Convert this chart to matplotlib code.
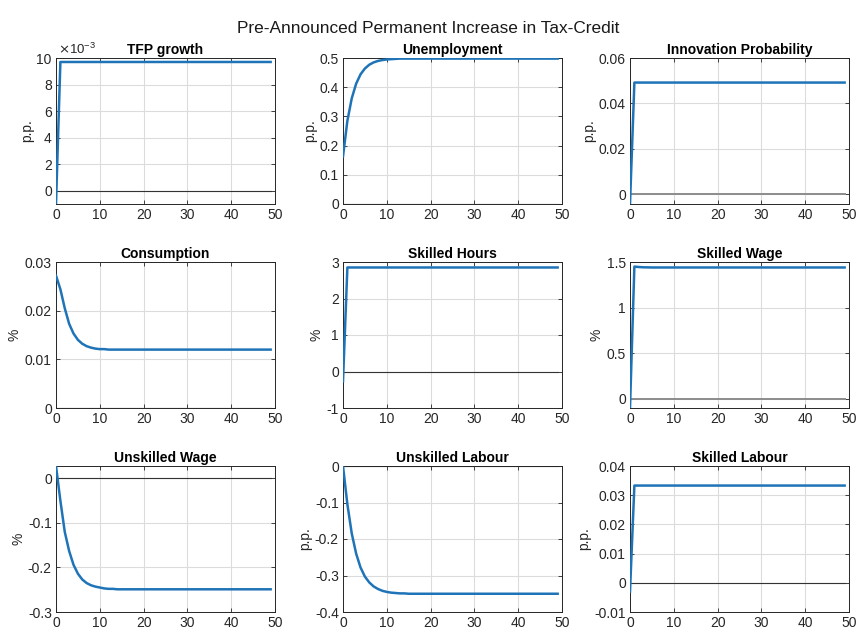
import numpy as np
import matplotlib.pyplot as plt

plt.rcParams["font.family"] = ["Liberation Sans", "DejaVu Sans"]

periods = np.arange(50)

tfp_growth = [-0.0010] + [0.0097] * 49
unemployment = [0.163, 0.285, 0.362, 0.412, 0.444, 0.464, 0.477, 0.485, 0.490, 0.493,
                0.495, 0.496, 0.497, 0.498, 0.498] + [0.498] * 35
innovation_prob = [-0.0042] + [0.0492] * 49
consumption = [0.0272, 0.0244, 0.0205, 0.0173, 0.0153, 0.0140, 0.0132, 0.0127, 0.0124, 0.0122,
               0.0121, 0.0121, 0.0120] + [0.0120] * 37
skilled_hours = [-0.27] + [2.85] * 49
skilled_wage = [-0.10, 1.45, 1.445, 1.442, 1.441] + [1.44] * 45
unskilled_wage = [0.028, -0.050, -0.120, -0.163, -0.194, -0.214, -0.227, -0.235, -0.240, -0.243,
                  -0.245, -0.247, -0.248, -0.248, -0.249] + [-0.249] * 35
unskilled_labour = [0.0, -0.105, -0.185, -0.240, -0.278, -0.303, -0.319, -0.330, -0.337, -0.342,
                    -0.345, -0.347, -0.348, -0.349, -0.349] + [-0.350] * 35
skilled_labour = [-0.003] + [0.0333] * 49

titles = ["TFP growth", "Unemployment", "Innovation Probability",
          "Consumption", "Skilled Hours", "Skilled Wage",
          "Unskilled Wage", "Unskilled Labour", "Skilled Labour"]
units = ["p.p.", "p.p.", "p.p.", "%", "%", "%", "%", "p.p.", "p.p."]
series = [tfp_growth, unemployment, innovation_prob,
          consumption, skilled_hours, skilled_wage,
          unskilled_wage, unskilled_labour, skilled_labour]
y_limits = [(-0.001, 0.010), (0, 0.5), (-0.0042, 0.06),
            (0, 0.03), (-1, 3), (-0.1, 1.5),
            (-0.3, 0.028), (-0.4, 0), (-0.01, 0.04)]
y_ticks = [np.arange(0, 0.0101, 0.002), np.arange(0, 0.51, 0.1), [0, 0.02, 0.04, 0.06],
           [0, 0.01, 0.02, 0.03], [-1, 0, 1, 2, 3], [0, 0.5, 1, 1.5],
           [-0.3, -0.2, -0.1, 0], [-0.4, -0.3, -0.2, -0.1, 0], [-0.01, 0, 0.01, 0.02, 0.03, 0.04]]
y_tick_labels = [["0", "2", "4", "6", "8", "10"],
                 ["0", "0.1", "0.2", "0.3", "0.4", "0.5"],
                 ["0", "0.02", "0.04", "0.06"],
                 ["0", "0.01", "0.02", "0.03"],
                 ["-1", "0", "1", "2", "3"],
                 ["0", "0.5", "1", "1.5"],
                 ["-0.3", "-0.2", "-0.1", "0"],
                 ["-0.4", "-0.3", "-0.2", "-0.1", "0"],
                 ["-0.01", "0", "0.01", "0.02", "0.03", "0.04"]]

# zero reference line: darker in most panels, lighter grey in a couple
zero_colors = ["#333333", "#333333", "#8c8c8c", "#333333", "#333333", "#8c8c8c",
               "#333333", "#333333", "#333333"]
zero_widths = [0.8, 0.8, 1.4, 0.8, 0.8, 1.4, 0.8, 0.8, 0.8]

fig = plt.figure(figsize=(8.56, 6.32), dpi=100)
fig.suptitle("Pre-Announced Permanent Increase in Tax-Credit", fontsize=12.4, y=0.967, color="#1a1a1a")

lefts = [56, 343, 630]
tops = [58, 262, 466]
ax_w, ax_h = 219, 146

for i in range(9):
    row, col = divmod(i, 3)
    left = lefts[col] / 856
    bottom = 1 - (tops[row] + ax_h) / 632
    ax = fig.add_axes([left, bottom, ax_w / 856, ax_h / 632])

    ax.plot(periods, [0] * len(periods), color=zero_colors[i], linewidth=zero_widths[i], zorder=2)
    ax.plot(periods, series[i], color="#1f74b8", linewidth=1.8, zorder=3)

    ax.set_xlim(0, 50)
    ax.set_ylim(*y_limits[i])
    ax.set_xticks(np.arange(0, 51, 10))
    ax.set_yticks(y_ticks[i])
    ax.set_yticklabels(y_tick_labels[i])
    ax.set_title(titles[i], fontsize=10, fontweight="bold", pad=3)
    ax.set_ylabel(units[i], fontsize=10, color="#262626", labelpad=2)

    ax.grid(True, color="#dcdcdc", linewidth=0.8)
    ax.set_axisbelow(True)
    ax.tick_params(direction="in", top=True, right=True, labelsize=10, colors="#262626",
                   length=3, width=0.6, pad=3)
    for spine in ax.spines.values():
        spine.set_color("#262626")
        spine.set_linewidth(0.7)

    if i == 0:
        ax.text(0.01, 1.01, r"$\times\mathregular{10^{-3}}$", transform=ax.transAxes,
                fontsize=9.5, color="#262626", ha="left", va="bottom")

fig.savefig("out.png", dpi=100)
